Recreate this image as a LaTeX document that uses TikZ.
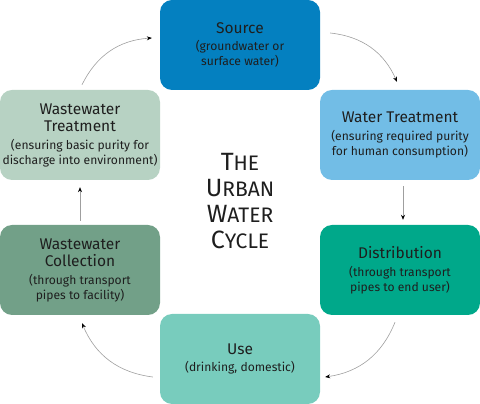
\documentclass[tikz,border=0pt]{standalone}
\usepackage{fontspec}
\setmainfont{Fira Sans}
\usetikzlibrary{calc,arrows.meta}

\definecolor{srcblue}{HTML}{0480C0}
\definecolor{treatblue}{HTML}{72BDE6}
\definecolor{distgreen}{HTML}{00A88A}
\definecolor{usegreen}{HTML}{78CCBD}
\definecolor{collgreen}{HTML}{72A088}
\definecolor{wwtgreen}{HTML}{B7D2C3}
\definecolor{labeltext}{HTML}{1E1E1E}

\newcommand{\subline}[1]{{\fontsize{12.1}{15}\selectfont #1}}
\newcommand{\titlecap}[1]{{\fontsize{25}{26}\selectfont #1}}

\tikzset{
  stage/.style={rounded corners=12pt, minimum width=160pt, minimum height=90pt,
    align=center, text=labeltext, font=\fontsize{15.5}{17.5}\selectfont, inner sep=0pt},
  flow/.style={draw=gray!75, line width=0.6pt, -{Stealth[black,length=5pt,width=4pt]}}
}

\begin{document}
\begin{tikzpicture}[x=1pt,y=1pt]
  \useasboundingbox (0,0) rectangle (480,404);

  % the six stages
  \node[stage, fill=srcblue] (src) at (240,359) {Source\\\subline{(groundwater or}\\[-2.5pt]\subline{surface water)}};
  \node[stage, fill=treatblue] (wtr) at (400,269) {Water Treatment\\\subline{(ensuring required purity}\\[-2.5pt]\subline{for human consumption)}};
  \node[stage, fill=distgreen] (dist) at (400,134) {Distribution\\\subline{(through transport}\\[-2.5pt]\subline{pipes to end user)}};
  \node[stage, fill=usegreen] (use) at (240,45) {Use\\\subline{(drinking, domestic)}};
  \node[stage, fill=collgreen] (wwc) at (80,134) {Wastewater\\Collection\\\subline{(through transport}\\[-2.5pt]\subline{pipes to facility)}};
  \node[stage, fill=wwtgreen] (wwt) at (80,269) {Wastewater\\Treatment\\\subline{(ensuring basic purity for}\\[-2.5pt]\subline{discharge into environment)}};

  % title
  \node[align=center, text=labeltext, font=\fontsize{21}{26}\selectfont] (title) at (240,203)
    {\titlecap{T}HE\\\titlecap{U}RBAN\\\titlecap{W}ATER\\\titlecap{C}YCLE};

  % the cycle
  \draw[flow] ($(src.east)+(10,12)$) to[bend left=30] ($(wtr.north)+(-3,8)$);
  \draw[flow] ($(wtr.south)+(3,-6)$) -- ($(dist.north)+(3,5)$);
  \draw[flow] ($(dist.south)+(-5,-7)$) to[bend left=30] ($(use.east)+(5,-18)$);
  \draw[flow] ($(use.west)+(-7,-18)$) to[bend left=30] ($(wwc.south)+(2,-8)$);
  \draw[flow] ($(wwc.north)+(0,4)$) -- ($(wwt.south)+(0,-7)$);
  \draw[flow] ($(wwt.north)+(2,5)$) to[bend left=30] ($(src.west)+(-8,7)$);
\end{tikzpicture}
\end{document}
